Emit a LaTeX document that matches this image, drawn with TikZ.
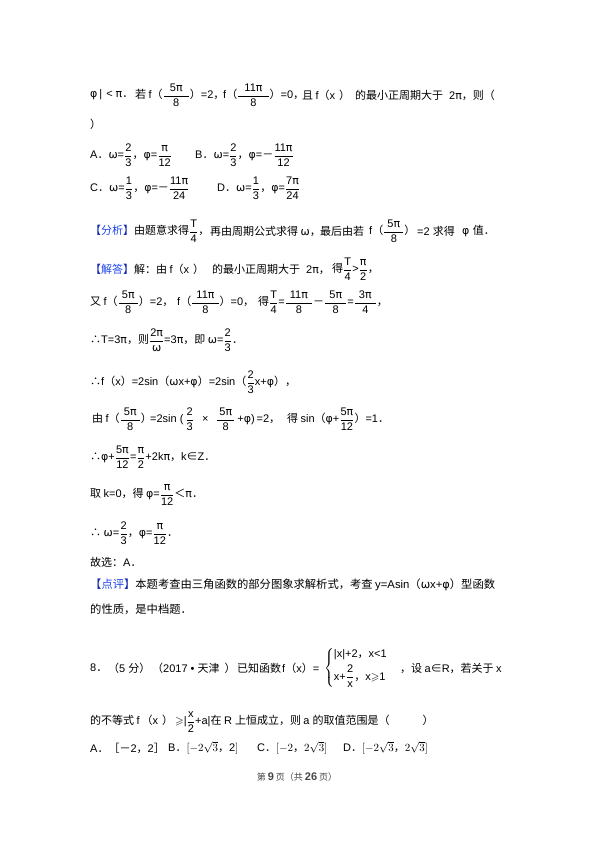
\documentclass[tikz,border=0pt]{standalone}
\usepackage{amsmath,amssymb}
\usepackage{fontspec}
\setmainfont{Liberation Sans}
\newfontfamily\cjkf{Noto Sans CJK SC}
\newfontfamily\grf{DejaVu Sans}
\newfontfamily\latf{Liberation Sans}
% automatic font switching by character class
\XeTeXinterchartokenstate=1
\chardef\CJKcls=1
\chardef\GRcls=2
\newcount\cc
\cc="3000 \loop \XeTeXcharclass\cc=\CJKcls \advance\cc by 1 \ifnum\cc<"3040 \repeat
\cc="4E00 \loop \XeTeXcharclass\cc=\CJKcls \advance\cc by 1 \ifnum\cc<"A000 \repeat
\cc="FF00 \loop \XeTeXcharclass\cc=\CJKcls \advance\cc by 1 \ifnum\cc<"FFF0 \repeat
\cc="2200 \loop \XeTeXcharclass\cc=\CJKcls \advance\cc by 1 \ifnum\cc<"2300 \repeat
\cc="0370 \loop \XeTeXcharclass\cc=\GRcls \advance\cc by 1 \ifnum\cc<"0400 \repeat
\XeTeXinterchartoks 0 \CJKcls = {\cjkf}
\XeTeXinterchartoks 2 \CJKcls = {\cjkf}
\XeTeXinterchartoks 4095 \CJKcls = {\cjkf}
\XeTeXinterchartoks 0 \GRcls = {\grf}
\XeTeXinterchartoks 1 \GRcls = {\grf}
\XeTeXinterchartoks 4095 \GRcls = {\grf}
\XeTeXinterchartoks 1 0 = {\latf}
\XeTeXinterchartoks 2 0 = {\latf}
\XeTeXinterchartoks 4095 0 = {\latf}
\newcommand\fr[2]{$\genfrac{}{}{0.4pt}{0}{\text{#1}}{\text{#2}}$}
\newcommand\frp[3][3pt]{$\genfrac{}{}{0.4pt}{0}{\hspace{#1}\text{#2}\hspace{#1}}{\text{#3}}$}
\newcommand\fxp{（x\hspace{4pt}）}
\definecolor{labblue}{RGB}{30,70,235}
\definecolor{brk}{RGB}{20,40,170}
\definecolor{foot}{RGB}{70,70,70}
\newcommand\lab[1]{{\color{brk}【}{\color{labblue}#1}{\color{brk}】}}
\tikzset{
  txt/.style={anchor=west, inner sep=0pt, font=\fontsize{11}{13}\selectfont},
  txtb/.style={anchor=west, inner sep=0pt, font=\fontsize{11.3}{13}\selectfont},
}
\begin{document}
\begin{tikzpicture}[x=1pt,y=-1pt]
\useasboundingbox[fill=white] (0,0) rectangle (595,842);
% line 1
\node[txt] (l1a) at (90,95) {φ\hspace{2pt}|\hspace{4pt}<\hspace{3pt}π．};
\node[txt] (l1b) at (135,95) {若 f（\frp[6pt]{5π}{8}）=2，};
\node[txt] (l1c) at (223,95) {f（\frp[6pt]{11π}{8}）=0，};
\node[txt] (l1d) at (302,95) {且 f\fxp};
\node[txt] (l1e) at (355,95) {的最小正周期大于\hspace{6pt}2π，则（};
\node[txt] (l2) at (90,124) {）};
% options
\node[txt] (l3a) at (90,155) {A．ω=\fr{2}{3}，φ=\fr{π}{12}};
\node[txt] (l3b) at (195,155) {B．ω=\fr{2}{3}，φ=－\fr{11π}{12}};
\node[txt] (l4a) at (90,188) {C．ω=\fr{1}{3}，φ=－\fr{11π}{24}};
\node[txt] (l4b) at (217,188) {D．ω=\fr{1}{3}，φ=\fr{7π}{24}};
% analysis
\node[txt] (l5a) at (90,231) {\lab{分析}由题意求得\fr{T}{4}，};
\node[txt] (l5b) at (210,231) {再由周期公式求得 ω，};
\node[txt] (l5c) at (320,231) {最后由若};
\node[txt] (l5d) at (369,231) {f（\frp{5π}{8}）};
\node[txt] (l5e) at (417,231) {=2 求得};
\node[txt] (l5f) at (462,231) {φ 值．};
% solution
\node[txt] (l6a) at (90,269) {\lab{解答}解：由 f\fxp};
\node[txt] (l6b) at (212,269) {的最小正周期大于\hspace{6pt}2π，};
\node[txt] (l6c) at (332,269) {得\fr{T}{4}>\fr{π}{2}，};
\node[txt] (l7a) at (90,302) {又 f（\frp{5π}{8}）=2，};
\node[txt] (l7b) at (177,302) {f（\frp[4pt]{11π}{8}）=0，};
\node[txt] (l7c) at (258,302) {得\fr{T}{4}=\frp[4pt]{11π}{8}－\frp[4pt]{5π}{8}=\frp[4pt]{3π}{4}，};
\node[txt] (l8) at (90,340) {∴T=3π，则\fr{2π}{ω}=3π，即 ω=\fr{2}{3}．};
\node[txt] (l9) at (90,382) {∴f（x）=2sin（ωx+φ）=2sin（\fr{2}{3}x+φ），};
\node[txt] (l10a) at (92,419) {由 f（\frp{5π}{8}）};
\node[txt] (l10b) at (150,419) {=2sin\hspace{3pt}(\hspace{2pt}\fr{2}{3}};
\node[txt] (l10c) at (202,419) {×};
\node[txt] (l10d) at (216,419) {\frp[2pt]{5π}{8}\hspace{2pt}+φ)\hspace{2pt}=2，};
\node[txt] (l10e) at (287,419) {得 sin（φ+\fr{5π}{12}）=1．};
\node[txt] (l11) at (90,457) {∴φ+\fr{5π}{12}=\fr{π}{2}+2kπ，k∈Z．};
\node[txt] (l12) at (90,495) {取 k=0，得 φ=\fr{π}{12}＜π．};
\node[txt] (l13) at (90,533) {∴ ω=\fr{2}{3}，φ=\fr{π}{12}．};
\node[txt] (l14) at (90,562) {故选：A．};
\node[txtb] (l15) at (90,585) {\lab{点评}本题考查由三角函数的部分图象求解析式，考查 y=Asin（ωx+φ）型函数};
\node[txtb] (l16) at (90,609) {的性质，是中档题．};
% question 8
\node[txt] (l17a) at (90,668) {8．};
\node[txt] (l17b) at (108,668) {（5 分）};
\node[txt] (l17c) at (152,668) {（2017\hspace{3pt}•\hspace{3pt}天津\hspace{5pt}）};
\node[txt] (l17d) at (237,668) {已知函数};
\node[txt] (l17e) at (282,668) {f（x）=};
\node[txt] (l17f) at (324,668) {$\left\{\begin{array}{@{}l@{}}\text{|x|+2，x<1}\\[4pt] \text{x+}\genfrac{}{}{0.4pt}{0}{\text{2}}{\text{x}}\text{，x$\geqslant$1}\end{array}\right.$};
\node[txt] (l17g) at (400,668) {，设 a∈R，若关于 x};
\node[txt] (l18) at (90,722) {的不等式 f\hspace{2pt}\fxp\hspace{2pt}$\geqslant$|\fr{x}{2}+a|在 R 上恒成立，则 a 的取值范围是（　　　）};
\node[txt] (l19a) at (90,748) {A．［－2，2］};
\node[txt] (l19b) at (168,748) {B．$[-2\sqrt{3}$，2$]$};
\node[txt] (l19c) at (257,748) {C．$[-2$，$2\sqrt{3}]$};
\node[txt] (l19d) at (343,748) {D．$[-2\sqrt{3}$，$2\sqrt{3}]$};
\node[anchor=center, inner sep=0pt, text=foot, font=\fontsize{9}{11}\selectfont] (ft) at (297,777) {第 {\fontsize{11}{12}\selectfont\bfseries 9} 页（共 {\fontsize{11}{12}\selectfont\bfseries 26} 页）};
\end{tikzpicture}
\end{document}
